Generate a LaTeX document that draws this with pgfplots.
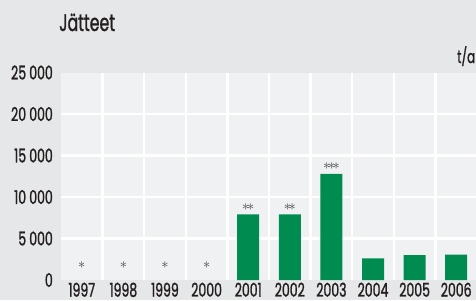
\documentclass[border=0pt]{standalone}
\usepackage{fontspec}
\setmainfont{Poppins}[FakeStretch=0.66, FakeBold=1.2]
\usepackage{pgfplots}
\pgfplotsset{compat=1.18}
\definecolor{bg}{HTML}{E6E7E8}
\definecolor{plotbg}{HTML}{F0F1F3}
\definecolor{barg}{HTML}{008C50}
\definecolor{txt}{HTML}{231F20}
\definecolor{starc}{HTML}{404040}
\begin{document}
\begin{tikzpicture}[x=1bp,y=1bp]
\fill[bg] (0,0) rectangle (476,300);
\useasboundingbox (0,0) rectangle (476,300);
\node[anchor=base west, font=\fontsize{24}{26}\selectfont, text=txt, inner sep=0] at (59,269) {Jätteet};
\node[anchor=base west, font=\fontsize{18}{20}\selectfont, text=txt, inner sep=0] at (457,237) {t/a};
\begin{axis}[
  at={(61bp,20bp)}, anchor=south west,
  scale only axis, width=416bp, height=207.5bp,
  xmin=-0.5, xmax=9.5, ymin=0, ymax=25000,
  scaled y ticks=false,
  axis line style={draw=none},
  axis background/.style={fill=plotbg},
  major tick length=0, minor tick length=0,
  xtick={0,...,9},
  xticklabels={1997,1998,1999,2000,2001,2002,2003,2004,2005,2006},
  minor xtick={0.5,1.5,...,8.5},
  xminorgrids,
  minor grid style={white, line width=2.4bp},
  ytick={0,5000,10000,15000,20000,25000},
  yticklabels={0,5\,000,10\,000,15\,000,20\,000,25\,000},
  extra y ticks={5000,10000,15000,20000},
  extra y tick labels={},
  extra y tick style={grid=major, major grid style={white, line width=2.2bp}},
  x tick label style={anchor=north, inner sep=0, yshift=-2.5bp, font=\fontsize{19}{20}\selectfont, text=txt},
  y tick label style={anchor=east, inner sep=0, xshift=-8bp, font=\fontsize{19}{20}\selectfont, text=txt},
  clip=false,
]
\addplot[ybar, bar width=22bp, fill=barg, draw=none] coordinates {
  (4,7900) (5,7900) (6,12800) (7,2600) (8,3000) (9,3050)
};
\addplot[draw=none, mark=none, nodes near coords={${\ast}$},
  every node near coord/.style={anchor=center, inner sep=0, text=starc, font=\fontsize{15}{16}\selectfont}]
  coordinates {(0,1800) (1,1800) (2,1800) (3,1800)};
\addplot[draw=none, mark=none, nodes near coords={${\ast}\mkern-3mu{\ast}$},
  every node near coord/.style={anchor=center, inner sep=0, text=starc, font=\fontsize{15}{16}\selectfont}]
  coordinates {(4,8750) (5,8750)};
\addplot[draw=none, mark=none, nodes near coords={${\ast}\mkern-3mu{\ast}\mkern-3mu{\ast}$},
  every node near coord/.style={anchor=center, inner sep=0, text=starc, font=\fontsize{15}{16}\selectfont}]
  coordinates {(6,13700)};
\end{axis}
\end{tikzpicture}
\end{document}
